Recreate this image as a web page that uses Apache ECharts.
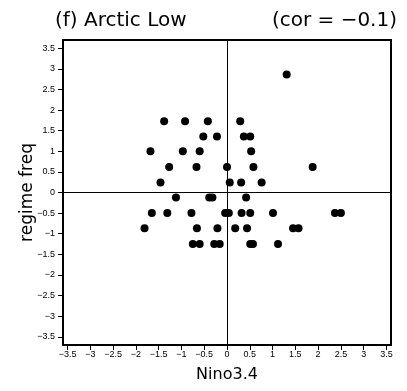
<!DOCTYPE html>
<html>
<head>
<meta charset="utf-8">
<script src="https://cdn.jsdelivr.net/npm/echarts@6/dist/echarts.min.js"></script>
<style>
  html, body { margin: 0; padding: 0; background: #fff; }
  #chart { width: 407px; height: 391px; }
</style>
</head>
<body>
<div id="chart"></div>
<script>
// Nino3.4 index vs regime frequency anomaly
const ninoValues = [
  1.31,
  -1.38, -0.92, -0.42, 0.29,
  -0.52, -0.22, 0.37, 0.51,
  -1.68, -0.97, -0.6, 0.53,
  -1.27, -0.67, 0.0, 0.58, 1.88,
  -1.46, 0.06, 0.31, 0.76,
  -1.12, -0.39, -0.32, 0.42,
  -1.65, -1.31, -0.78, -0.04, 0.04, 0.32, 0.51, 1.01, 2.37, 2.5,
  -1.81, -0.66, -0.21, 0.18, 0.44, 1.45, 1.57,
  -0.75, -0.6, -0.28, -0.16, 0.51, 0.57, 1.12
];
const regimeValues = [
  2.86,
  1.73, 1.73, 1.73, 1.73,
  1.36, 1.36, 1.36, 1.36,
  1.0, 1.0, 1.0, 1.0,
  0.62, 0.62, 0.62, 0.62, 0.62,
  0.24, 0.24, 0.24, 0.24,
  -0.12, -0.12, -0.12, -0.12,
  -0.5, -0.5, -0.5, -0.5, -0.5, -0.5, -0.5, -0.5, -0.5, -0.5,
  -0.87, -0.87, -0.87, -0.87, -0.87, -0.87, -0.87,
  -1.25, -1.25, -1.25, -1.25, -1.25, -1.25, -1.25
];
const tickValues = [-3.5, -3, -2.5, -2, -1.5, -1, -0.5, 0, 0.5, 1, 1.5, 2, 2.5, 3, 3.5];

const points = ninoValues.map((x, i) => [x, regimeValues[i]]);

// NCL-style minus sign
const fmt = (v) => String(v).replace('-', '\u2212');

const chart = echarts.init(document.getElementById('chart'));

const axisCommon = {
  type: 'value',
  axisLine: { show: true, onZero: false, lineStyle: { color: '#000', width: 2 } },
  axisTick: {
    show: true,
    customValues: tickValues,
    length: 5,
    lineStyle: { color: '#000', width: 1 }
  },
  axisLabel: {
    customValues: tickValues,
    formatter: fmt,
    color: '#000',
    fontSize: 9,
    fontFamily: 'Liberation Sans'
  },
  splitLine: { show: false },
  nameMoveOverlap: false,
  nameTextStyle: { color: '#000', fontSize: 16, fontFamily: 'DejaVu Sans' }
};

const titleStyle = { color: '#000', fontSize: 20, fontWeight: 'normal', fontFamily: 'DejaVu Sans' };

const options = {
  animation: false,
  title: [
    { text: '(f) Arctic Low', left: 50, top: 6, textStyle: titleStyle },
    { text: '(cor = \u22120.1)', right: 5, top: 6, textStyle: titleStyle }
  ],
  grid: {
    left: 63,
    right: 16,
    top: 40,
    bottom: 46,
    show: true,
    borderColor: '#000',
    borderWidth: 2
  },
  xAxis: Object.assign({}, axisCommon, {
    min: -3.6,
    max: 3.6,
    name: 'Nino3.4',
    nameLocation: 'middle',
    nameGap: 22,
    axisLabel: Object.assign({}, axisCommon.axisLabel, { margin: 5 })
  }),
  yAxis: Object.assign({}, axisCommon, {
    min: -3.7,
    max: 3.7,
    name: 'regime freq',
    nameLocation: 'middle',
    nameGap: 27,
    nameTextStyle: { color: '#000', fontSize: 17, fontFamily: 'DejaVu Sans' },
    axisLabel: Object.assign({}, axisCommon.axisLabel, { margin: 8 })
  }),
  series: [
    {
      type: 'scatter',
      data: points,
      symbol: 'circle',
      symbolSize: 8,
      itemStyle: { color: '#000', opacity: 1 },
      silent: true,
      markLine: {
        silent: true,
        symbol: ['none', 'none'],
        label: { show: false },
        lineStyle: { color: '#000', width: 1, type: 'solid' },
        data: [{ xAxis: 0 }, { yAxis: 0 }]
      }
    }
  ]
};

chart.setOption(options);
</script>
</body>
</html>
